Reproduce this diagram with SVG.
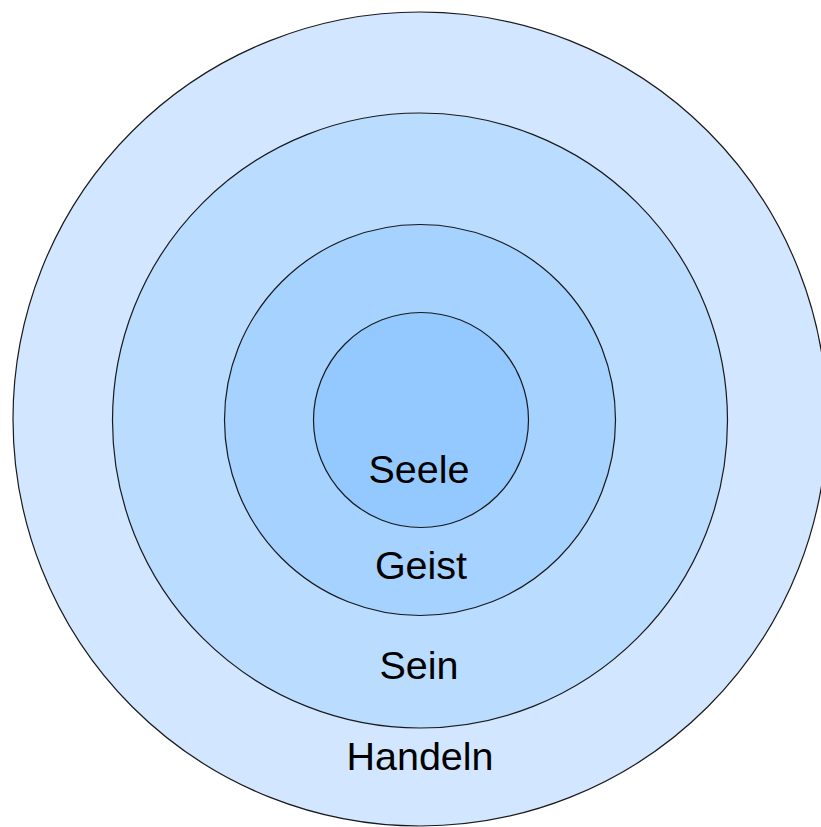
<svg xmlns="http://www.w3.org/2000/svg" width="821" height="827" viewBox="0 0 821 827">
<style>
.ring{stroke:#1a1a1a;stroke-width:1.2}
.lbl{font-family:"Liberation Sans",Arial,sans-serif;font-size:39.5px;fill:#000;text-anchor:middle}
</style>
<rect width="821" height="827" fill="#ffffff"/>
<g id="handeln">
<circle class="ring" cx="420" cy="419" r="407" fill="#d2e7ff"/>
</g>
<g id="sein">
<circle class="ring" cx="420" cy="420.5" r="307.5" fill="#badcff"/>
</g>
<g id="geist">
<circle class="ring" cx="420" cy="420" r="195.5" fill="#a6d2ff"/>
</g>
<g id="seele">
<circle class="ring" cx="421" cy="420" r="107.5" fill="#94c9ff"/>
</g>
<g id="labels">
<text class="lbl" x="419" y="483">Seele</text>
<text class="lbl" x="421" y="579">Geist</text>
<text class="lbl" x="419" y="679">Sein</text>
<text class="lbl" x="420" y="770">Handeln</text>
</g>
</svg>
